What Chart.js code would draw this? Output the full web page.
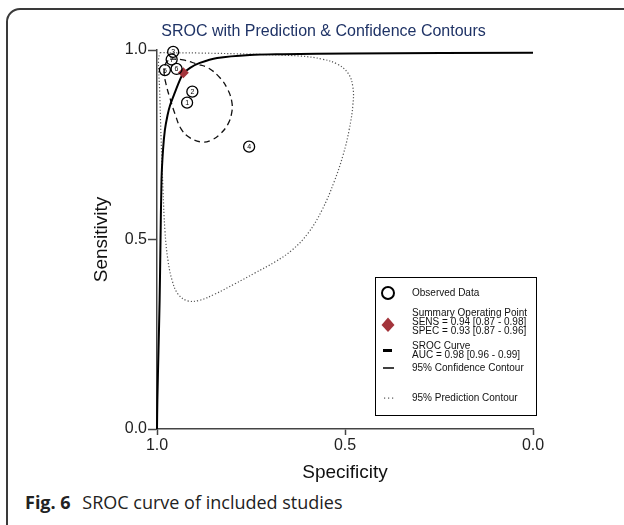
<!DOCTYPE html>
<html>
<head>
<meta charset="utf-8">
<script src="https://cdn.jsdelivr.net/npm/chart.js@4.4.1/dist/chart.umd.min.js"></script>
<style>
  body { margin: 0; background: #fff; width: 624px; height: 525px; overflow: hidden; position: relative; }
  #frame { position: absolute; left: 6px; top: 8px; width: 660px; height: 560px; border: 2px solid #3a3a3a; border-radius: 14px; box-sizing: border-box; }
  #wrap { position: absolute; left: 0; top: 0; width: 624px; height: 490px; }
  #caption { position: absolute; left: 25px; top: 490px; font-family: "Open Sans", sans-serif; font-size: 18px; color: #222; white-space: nowrap; }
  #caption b { font-weight: 700; margin-right: 7px; }
</style>
</head>
<body>
<div id="frame"></div>
<div id="wrap"><canvas id="graph" width="624" height="490"></canvas></div>
<div id="caption"><b>Fig. 6</b> SROC curve of included studies</div>
<script>
// observed studies
var studyIds  = ["1", "2", "3", "4", "5", "6", "7"];
var studySpec = [0.920, 0.906, 0.957, 0.755, 0.979, 0.948, 0.961];
var studySens = [0.861, 0.890, 0.995, 0.745, 0.947, 0.950, 0.975];

// summary operating point
var summarySpec = [0.93];
var summarySens = [0.94];

// SROC curve
var srocSpec = [1.000, 0.999, 0.996, 0.993, 0.991, 0.988, 0.984, 0.979, 0.972, 0.965, 0.952, 0.939, 0.931, 0.912, 0.886, 0.840, 0.753, 0.665, 0.487, 0.000];
var srocSens = [0.000, 0.077, 0.208, 0.340, 0.472, 0.657, 0.736, 0.789, 0.828, 0.855, 0.889, 0.921, 0.937, 0.953, 0.966, 0.979, 0.987, 0.989, 0.991, 0.993];

// 95% confidence contour
var confSpec = [0.965, 0.931, 0.894, 0.864, 0.832, 0.811, 0.801, 0.801, 0.811, 0.832, 0.854, 0.878, 0.912, 0.936, 0.952, 0.965, 0.976, 0.981, 0.976, 0.965];
var confSens = [0.976, 0.974, 0.963, 0.953, 0.926, 0.894, 0.863, 0.836, 0.805, 0.778, 0.763, 0.757, 0.768, 0.792, 0.831, 0.871, 0.910, 0.942, 0.966, 0.976];

// 95% prediction contour
var predSpec = [0.992, 0.886, 0.753, 0.620, 0.561, 0.521, 0.492, 0.479, 0.479, 0.489, 0.505, 0.529, 0.561, 0.598, 0.641, 0.686, 0.739, 0.793, 0.846, 0.886, 0.918, 0.944, 0.960, 0.971, 0.979, 0.984, 0.989, 0.993, 0.996, 0.992];
var predSens = [0.993, 0.992, 0.989, 0.984, 0.976, 0.963, 0.939, 0.902, 0.855, 0.789, 0.723, 0.652, 0.578, 0.517, 0.472, 0.441, 0.412, 0.383, 0.356, 0.340, 0.338, 0.356, 0.393, 0.446, 0.525, 0.631, 0.763, 0.894, 0.974, 0.993];

var xTicks = [1.0, 0.5, 0.0];
var yTicks = [0.0, 0.5, 1.0];

var legendText = [
    ["Observed Data"],
    ["Summary Operating Point", "SENS = 0.94 [0.87 - 0.98]", "SPEC = 0.93 [0.87 - 0.96]"],
    ["SROC Curve", "AUC = 0.98 [0.96 - 0.99]"],
    ["95% Confidence Contour"],
    ["95% Prediction Contour"]
];

const FONT = '"Liberation Sans", Arial, sans-serif';
const pts = (xs, ys) => xs.map((x, i) => ({x: x, y: ys[i]}));

// number labels inside the study circles
const studyLabels = {
    id: "studyLabels",
    afterDatasetsDraw(chart) {
        const ctx = chart.ctx;
        const meta = chart.getDatasetMeta(0);
        ctx.save();
        ctx.font = "7px " + FONT;
        ctx.fillStyle = "#000";
        ctx.textAlign = "center";
        ctx.textBaseline = "middle";
        meta.data.forEach((p, i) => ctx.fillText(studyIds[i], p.x, p.y + 0.5));
        ctx.restore();
    }
};

// boxed legend inside the plot
const srocLegend = {
    id: "srocLegend",
    afterDraw(chart) {
        const ctx = chart.ctx;
        const bx = 375.5, by = 277.5, bw = 161, bh = 138;
        const sx = 388, tx = 412;
        const rows = [293, 322, 350.5, 368, 398];
        const lh = 9;
        ctx.save();
        ctx.strokeStyle = "#000";
        ctx.lineWidth = 1;
        ctx.strokeRect(bx, by, bw, bh);

        ctx.font = "10px " + FONT;
        ctx.fillStyle = "#111";
        ctx.textAlign = "left";
        ctx.textBaseline = "middle";
        legendText.forEach((lines, i) => {
            const y0 = rows[i] - (lines.length - 1) * lh / 2;
            lines.forEach((t, j) => ctx.fillText(t, tx, y0 + j * lh));
        });

        // symbols
        ctx.strokeStyle = "#000";
        ctx.lineWidth = 2;
        ctx.beginPath();
        ctx.arc(sx, rows[0], 6, 0, Math.PI * 2);
        ctx.stroke();

        ctx.fillStyle = "#a3343b";
        ctx.beginPath();
        ctx.moveTo(sx, rows[1] - 4.5);
        ctx.lineTo(sx + 6.5, rows[1] + 3);
        ctx.lineTo(sx, rows[1] + 10);
        ctx.lineTo(sx - 6.5, rows[1] + 3);
        ctx.closePath();
        ctx.fill();

        ctx.lineWidth = 3;
        ctx.beginPath();
        ctx.moveTo(sx - 5, rows[2]); ctx.lineTo(sx + 4, rows[2]);
        ctx.stroke();

        ctx.lineWidth = 1.5;
        ctx.beginPath();
        ctx.moveTo(sx - 5, rows[3]); ctx.lineTo(sx + 6, rows[3]);
        ctx.stroke();

        ctx.fillStyle = "#555";
        [-4, 0, 4].forEach(d => ctx.fillRect(sx + d, rows[4] - 0.5, 1.2, 1.2));
        ctx.restore();
    }
};

// title over the plot
const srocTitle = {
    id: "srocTitle",
    afterDraw(chart) {
        const ctx = chart.ctx;
        ctx.save();
        ctx.font = "16px " + FONT;
        ctx.fillStyle = "#1f3366";
        ctx.textAlign = "center";
        ctx.textBaseline = "middle";
        ctx.fillText("SROC with Prediction & Confidence Contours", 323.5, 32);
        ctx.restore();
    }
};

const axisColor = "#444";

new Chart("graph", {
    type: "scatter",
    data: {
        datasets: [{
            label: "Observed Data",
            data: pts(studySpec, studySens),
            pointStyle: "circle",
            pointRadius: 5.5,
            pointBorderWidth: 1.3,
            pointBorderColor: "#000",
            pointBackgroundColor: "rgba(255,255,255,0)",
            clip: false,
            order: 0
        }, {
            label: "Summary Operating Point",
            data: pts(summarySpec, summarySens),
            pointStyle: "rectRot",
            pointRadius: 5.5,
            pointBorderWidth: 0,
            pointBackgroundColor: "#a3343b",
            clip: false,
            order: 1
        }, {
            label: "SROC Curve",
            data: pts(srocSpec, srocSens),
            showLine: true,
            borderColor: "#000",
            borderWidth: 2,
            pointRadius: 0,
            tension: 0.3,
            clip: false,
            order: 2
        }, {
            label: "95% Confidence Contour",
            data: pts(confSpec, confSens),
            showLine: true,
            borderColor: "#111",
            borderWidth: 1.3,
            borderDash: [6, 4],
            pointRadius: 0,
            tension: 0.4,
            clip: false,
            order: 3
        }, {
            label: "95% Prediction Contour",
            data: pts(predSpec, predSens),
            showLine: true,
            borderColor: "#555",
            borderWidth: 1.2,
            borderDash: [1.2, 2],
            pointRadius: 0,
            tension: 0.4,
            clip: false,
            order: 4
        }]
    },
    plugins: [studyLabels, srocLegend, srocTitle],
    options: {
        responsive: false,
        animation: false,
        devicePixelRatio: 1,
        layout: { padding: { left: 90, top: 50, right: 91, bottom: 0 } },
        scales: {
            x: {
                type: "linear",
                min: 0,
                max: 1,
                reverse: true,
                afterBuildTicks: s => { s.ticks = xTicks.map(v => ({value: v})); },
                afterFit: s => { s.height = 61; },
                border: { display: true, color: axisColor, width: 1.5 },
                grid: { drawOnChartArea: false, drawTicks: true, tickLength: 6, tickColor: axisColor, tickWidth: 1.5 },
                ticks: { color: "#222", padding: 1, font: { family: FONT, size: 16 }, callback: v => v.toFixed(1) },
                title: { display: true, text: "Specificity", color: "#111", font: { family: FONT, size: 19 }, padding: { top: 0, bottom: 5.6 } }
            },
            y: {
                type: "linear",
                min: 0,
                max: 1,
                afterBuildTicks: s => { s.ticks = yTicks.map(v => ({value: v})); },
                afterFit: s => { s.width = 67; },
                border: { display: true, color: axisColor, width: 1.5 },
                grid: { drawOnChartArea: false, drawTicks: true, tickLength: 9, tickColor: axisColor, tickWidth: 1.5 },
                ticks: { color: "#222", padding: 1, font: { family: FONT, size: 16 }, callback: v => v.toFixed(1) },
                title: { display: true, text: "Sensitivity", color: "#111", font: { family: FONT, size: 19 }, padding: { top: 0, bottom: 0 } }
            }
        },
        plugins: {
            legend: { display: false },
            tooltip: { enabled: false }
        }
    }
});
</script>
</body>
</html>
